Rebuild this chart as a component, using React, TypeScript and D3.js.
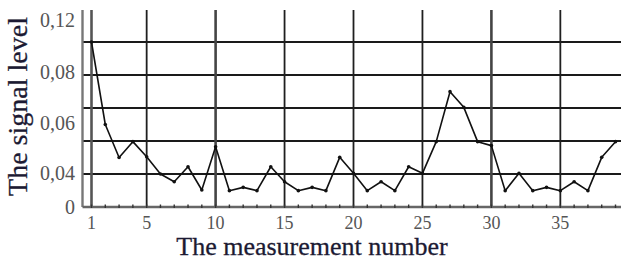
import React, { useRef, useEffect } from "react";
import * as d3 from "d3";

const measurements = d3.range(1, 40);
const signalLevel = [
  0.1, 0.05, 0.03, 0.0396, 0.0305, 0.02, 0.0153, 0.0244, 0.0103, 0.0365,
  0.0099, 0.0119, 0.0099, 0.0244, 0.0153, 0.0099, 0.0119, 0.0099, 0.0301, 0.0204,
  0.0099, 0.0153, 0.0099, 0.0244, 0.0204, 0.0396, 0.0699, 0.0604, 0.0396, 0.0372,
  0.0099, 0.0204, 0.0099, 0.0119, 0.0099, 0.0153, 0.0099, 0.0301, 0.0396,
];
const xTicks = [1, 5, 10, 15, 20, 25, 30, 35];
const xGrid = [5, 10, 15, 20, 25, 30, 35];
const yGrid = [0.02, 0.04, 0.06, 0.08, 0.1];
// the printed labels sit off the grid lines in the original
const yTickLabels = ["0", "0,04", "0,06", "0,08", "0,12"];
const yTickAt = [0, 0.0206, 0.0509, 0.0818, 0.1133];

const serif = "'Liberation Serif', 'Times New Roman', serif";

const App = () => {
  const chartRef = useRef<HTMLDivElement>(null);

  useEffect(() => {
    const width = 621;
    const height = 266;

    const x = d3.scaleLinear().domain([1, 39]).range([91.5, 615.5]);
    const y = d3.scaleLinear().domain([0, 0.12]).range([207, 9]);
    const axisX = x(1) - 9;
    const top = y(0.12) + 1;

    const svg = d3.create("svg")
      .attr("width", width)
      .attr("height", height)
      .attr("viewBox", [0, 0, width, height])
      .attr("style", "position:absolute;left:0;top:0;background:#fff;");

    // horizontal grid
    svg.append("g")
      .selectAll("line")
      .data(yGrid)
      .join("line")
      .attr("x1", axisX)
      .attr("x2", width)
      .attr("y1", d => y(d))
      .attr("y2", d => y(d))
      .attr("stroke", "#1a1a1a")
      .attr("stroke-width", 1.8);

    // vertical grid
    svg.append("g")
      .selectAll("line")
      .data(xGrid)
      .join("line")
      .attr("x1", d => x(d))
      .attr("x2", d => x(d))
      .attr("y1", top)
      .attr("y2", y(0))
      .attr("stroke", d => (d === 10 || d === 30 ? "#444" : "#1f1f1f"))
      .attr("stroke-width", d => (d === 10 || d === 30 ? 2.6 : 1.8));

    // x = 1 line and left axis
    svg.append("line")
      .attr("x1", x(1)).attr("x2", x(1))
      .attr("y1", top).attr("y2", y(0))
      .attr("stroke", "#555").attr("stroke-width", 2.6);
    svg.append("line")
      .attr("x1", axisX).attr("x2", axisX)
      .attr("y1", top).attr("y2", y(0))
      .attr("stroke", "#777").attr("stroke-width", 2.4);

    // baseline with unit ticks
    svg.append("line")
      .attr("x1", axisX).attr("x2", width)
      .attr("y1", y(0)).attr("y2", y(0))
      .attr("stroke", "#666").attr("stroke-width", 2.4);
    svg.append("g")
      .selectAll("line")
      .data(measurements)
      .join("line")
      .attr("x1", d => x(d)).attr("x2", d => x(d))
      .attr("y1", y(0) - 2.5).attr("y2", y(0) + 1)
      .attr("stroke", "#333").attr("stroke-width", 1.4);

    // series
    const points = measurements.map((m, i) => [m, signalLevel[i]] as [number, number]);
    svg.append("path")
      .datum(points)
      .attr("fill", "none")
      .attr("stroke", "#111")
      .attr("stroke-width", 1.6)
      .attr("stroke-linejoin", "round")
      .attr("d", d3.line<[number, number]>().x(d => x(d[0])).y(d => y(d[1])));
    svg.append("g")
      .selectAll("circle")
      .data(points)
      .join("circle")
      .attr("cx", d => x(d[0]))
      .attr("cy", d => y(d[1]))
      .attr("r", 1.8)
      .attr("fill", "#111");

    // tick labels
    svg.append("g")
      .selectAll("text")
      .data(xTicks)
      .join("text")
      .attr("x", d => x(d))
      .attr("y", 229)
      .attr("text-anchor", "middle")
      .attr("font-family", serif)
      .attr("font-size", 18)
      .attr("fill", "#555")
      .text(d => d);

    svg.append("g")
      .selectAll("text")
      .data(yTickLabels)
      .join("text")
      .attr("x", 75)
      .attr("y", (d, i) => y(yTickAt[i]))
      .attr("dy", "0.35em")
      .attr("text-anchor", "end")
      .attr("font-family", serif)
      .attr("font-size", 20)
      .attr("fill", "#555")
      .text(d => d);

    // titles
    svg.append("text")
      .attr("x", 312)
      .attr("y", 255)
      .attr("text-anchor", "middle")
      .attr("font-family", serif)
      .attr("font-size", 26)
      .attr("fill", "#1c1a33")
      .attr("stroke", "#1c1a33")
      .attr("stroke-width", 0.3)
      .text("The measurement number");

    svg.append("text")
      .attr("transform", `translate(27,106.5) rotate(-90)`)
      .attr("text-anchor", "middle")
      .attr("font-family", serif)
      .attr("font-size", 28)
      .attr("fill", "#1c1a33")
      .attr("stroke", "#1c1a33")
      .attr("stroke-width", 0.3)
      .text("The signal level");

    chartRef.current!.innerHTML = "";
    chartRef.current!.appendChild(svg.node()!);
  }, []);

  return <div ref={chartRef} />;
};

export default App;
